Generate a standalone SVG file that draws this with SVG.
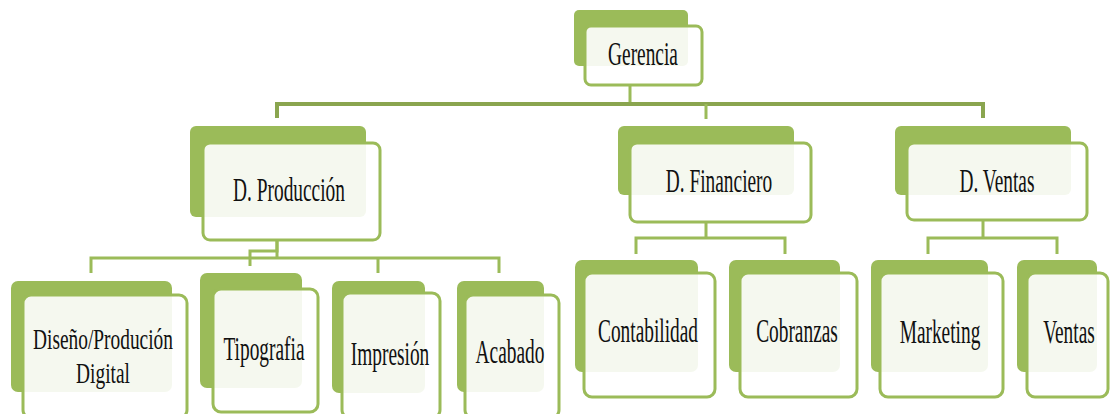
<svg xmlns="http://www.w3.org/2000/svg" width="1110" height="414" viewBox="0 0 1110 414">
<style>
.bk{fill:#9bbb59;}
.fr{fill:#ffffff;fill-opacity:0.9;stroke:#9bbb59;stroke-width:3;}
.ln{fill:none;stroke:#9bbb59;stroke-width:3;}
.ln2{fill:none;stroke:#8aa54f;stroke-width:4;}
.t{font-family:"Liberation Serif","Times New Roman",serif;font-size:34px;fill:#111;text-anchor:middle;}
.t2{font-family:"Liberation Serif","Times New Roman",serif;font-size:30px;fill:#111;text-anchor:middle;}
</style>
<rect width="1110" height="414" fill="#ffffff"/>
<g id="connectors">
<path class="ln" d="M630 85V104"/>
<path class="ln2" d="M277 118V104H983V118"/>
<path class="ln" d="M706 104V119"/>
<path class="ln" d="M277 240V258M91 273V258H499V273M378 258V273"/>
<path class="ln" d="M277 240V251H250V266"/>
<path class="ln" d="M706 222V238M636 254V238H785V254"/>
<path class="ln" d="M983 220V238M928 254V238H1057V254"/>
</g>
<g id="n-gerencia">
<rect class="bk" x="574" y="10" width="114" height="56" rx="5"/>
<rect class="fr" x="585" y="26" width="117" height="59" rx="6"/>
<text class="t" transform="translate(643 65) scale(0.57 1)">Gerencia</text>
</g>
<g id="n-produccion">
<rect class="bk" x="190" y="126" width="176" height="91" rx="6"/>
<rect class="fr" x="203" y="143" width="177" height="97" rx="7"/>
<text class="t" transform="translate(289 201) scale(0.57 1)">D. Producción</text>
</g>
<g id="n-financiero">
<rect class="bk" x="618" y="126" width="176" height="69" rx="6"/>
<rect class="fr" x="630" y="143" width="181" height="79" rx="7"/>
<text class="t" transform="translate(719 192) scale(0.57 1)">D. Financiero</text>
</g>
<g id="n-dventas">
<rect class="bk" x="895" y="126" width="176" height="69" rx="6"/>
<rect class="fr" x="907" y="143" width="180" height="77" rx="7"/>
<text class="t" transform="translate(997 192) scale(0.57 1)">D. Ventas</text>
</g>
<g id="n-diseno">
<rect class="bk" x="11" y="281" width="161" height="111" rx="7"/>
<rect class="fr" x="23" y="295" width="164" height="123" rx="8"/>
<text class="t2" transform="translate(103 349) scale(0.646 1)">Diseño/Produción</text>
<text class="t2" transform="translate(103 383) scale(0.646 1)">Digital</text>
</g>
<g id="n-tipografia">
<rect class="bk" x="200" y="273" width="102" height="115" rx="7"/>
<rect class="fr" x="213" y="289" width="105" height="123" rx="8"/>
<text class="t" transform="translate(264 360) scale(0.57 1)">Tipografia</text>
</g>
<g id="n-impresion">
<rect class="bk" x="332" y="281" width="93" height="112" rx="7"/>
<rect class="fr" x="342" y="293" width="98" height="125" rx="8"/>
<text class="t" transform="translate(390 365) scale(0.57 1)">Impresión</text>
</g>
<g id="n-acabado">
<rect class="bk" x="457" y="281" width="87" height="111" rx="7"/>
<rect class="fr" x="465" y="295" width="94" height="123" rx="8"/>
<text class="t" transform="translate(510 363) scale(0.57 1)">Acabado</text>
</g>
<g id="n-contabilidad">
<rect class="bk" x="575" y="260" width="123" height="112" rx="7"/>
<rect class="fr" x="584" y="273" width="131" height="124" rx="8"/>
<text class="t" transform="translate(648 342) scale(0.57 1)">Contabilidad</text>
</g>
<g id="n-cobranzas">
<rect class="bk" x="729" y="260" width="111" height="112" rx="7"/>
<rect class="fr" x="740" y="273" width="117" height="124" rx="8"/>
<text class="t" transform="translate(797 342) scale(0.57 1)">Cobranzas</text>
</g>
<g id="n-marketing">
<rect class="bk" x="871" y="260" width="117" height="112" rx="7"/>
<rect class="fr" x="880" y="273" width="123" height="124" rx="8"/>
<text class="t" transform="translate(940 343) scale(0.57 1)">Marketing</text>
</g>
<g id="n-ventas">
<rect class="bk" x="1017" y="260" width="80" height="112" rx="7"/>
<rect class="fr" x="1027" y="273" width="81" height="124" rx="8"/>
<text class="t" transform="translate(1069 343) scale(0.57 1)">Ventas</text>
</g>
</svg>
